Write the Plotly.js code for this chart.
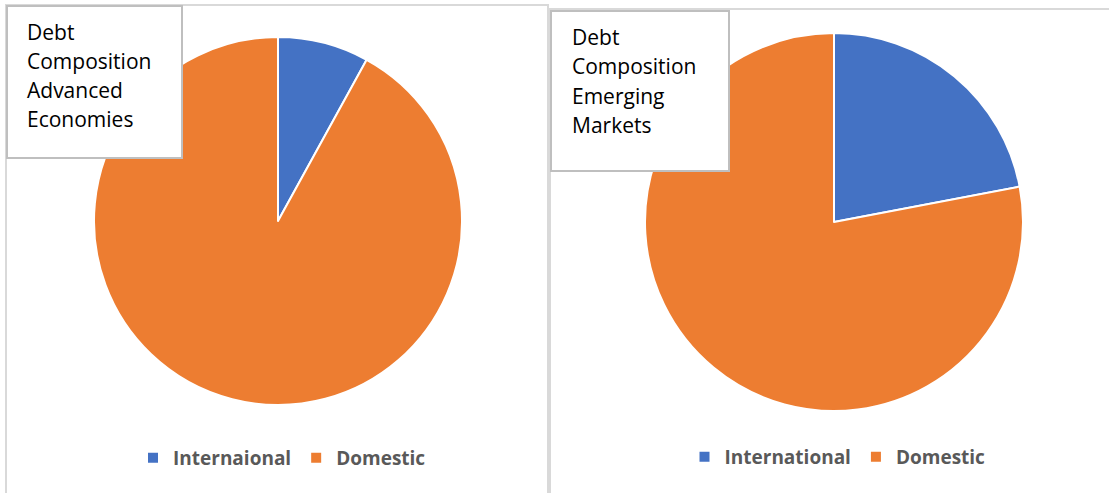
<!DOCTYPE html>
<html>
<head>
<meta charset="utf-8">
<script src="https://cdn.plot.ly/plotly-3.0.1.min.js"></script>
<style>html,body{margin:0;padding:0;background:#fff;}#chart{width:1109px;height:493px;}</style>
</head>
<body>
<div id="chart"></div>
<script>
// ---- data ----
const advancedLabels = ["Internaional", "Domestic"];
const advancedValues = [8, 92];
// trailing space keeps this legend entry separate from the left chart's "Domestic"
const emergingLabels = ["International", "Domestic "];
const emergingValues = [22, 78];
const advancedTitle = ["Debt", "Composition", "Advanced", "Economies"];
const emergingTitle = ["Debt", "Composition", "Emerging", "Markets"];
const sliceColors = ["#4472C4", "#ED7D31"];

// ---- layout helpers (pixel -> paper) ----
const W = 1109, H = 493;
const px = x => x / W;
const py = y => 1 - y / H;

const font = "'Open Sans', 'Liberation Sans', sans-serif";

const traces = [
  {
    type: "pie", labels: advancedLabels, values: advancedValues,
    sort: false, direction: "clockwise", rotation: 0,
    marker: {colors: sliceColors, line: {color: "#ffffff", width: 2}},
    textinfo: "none", hoverinfo: "label+value",
    domain: {x: [px(94), px(462)], y: [py(405), py(37)]},
    legend: "legend"
  },
  {
    type: "pie", labels: emergingLabels, values: emergingValues,
    sort: false, direction: "clockwise", rotation: 0,
    marker: {colors: sliceColors, line: {color: "#ffffff", width: 2}},
    textinfo: "none", hoverinfo: "label+value",
    domain: {x: [px(645), px(1023)], y: [py(411), py(33)]},
    legend: "legend2"
  }
];

const shapes = [
  // panel borders
  {type: "rect", xref: "paper", yref: "paper", x0: px(6), x1: px(548), y0: py(520), y1: py(5),
   line: {color: "#d9d9d9", width: 2}, fillcolor: "rgba(0,0,0,0)", layer: "below"},
  {type: "rect", xref: "paper", yref: "paper", x0: px(550), x1: px(1130), y0: py(520), y1: py(9),
   line: {color: "#d9d9d9", width: 2}, fillcolor: "rgba(0,0,0,0)", layer: "below"},
  // text boxes
  {type: "rect", xref: "paper", yref: "paper", x0: px(7), x1: px(182), y0: py(158), y1: py(6),
   line: {color: "#bfbfbf", width: 2}, fillcolor: "#ffffff", layer: "above"},
  {type: "rect", xref: "paper", yref: "paper", x0: px(551), x1: px(729), y0: py(171), y1: py(11),
   line: {color: "#bfbfbf", width: 2}, fillcolor: "#ffffff", layer: "above"}
];

const annotations = [];
advancedTitle.forEach((t, i) => annotations.push({
  text: t, xref: "paper", yref: "paper", x: px(25), y: py(32 + i * 29),
  xanchor: "left", yanchor: "middle", showarrow: false,
  font: {family: font, size: 21, color: "#000000"}
}));
emergingTitle.forEach((t, i) => annotations.push({
  text: t, xref: "paper", yref: "paper", x: px(570), y: py(37 + i * 29.3),
  xanchor: "left", yanchor: "middle", showarrow: false,
  font: {family: font, size: 21, color: "#000000"}
}));

const legendFont = {family: font, size: 19, color: "#595959", weight: 700};

const layout = {
  width: W, height: H,
  margin: {l: 0, r: 0, t: 0, b: 0},
  paper_bgcolor: "#ffffff", plot_bgcolor: "#ffffff",
  showlegend: true,
  legend: {orientation: "h", x: px(282), y: py(458), xanchor: "center", yanchor: "middle",
           font: legendFont, bgcolor: "rgba(0,0,0,0)", traceorder: "normal"},
  legend2: {orientation: "h", x: px(840), y: py(457), xanchor: "center", yanchor: "middle",
            font: legendFont, bgcolor: "rgba(0,0,0,0)", traceorder: "normal"},
  shapes: shapes,
  annotations: annotations
};

Plotly.newPlot("chart", traces, layout, {displayModeBar: false, staticPlot: true});
</script>
</body>
</html>
